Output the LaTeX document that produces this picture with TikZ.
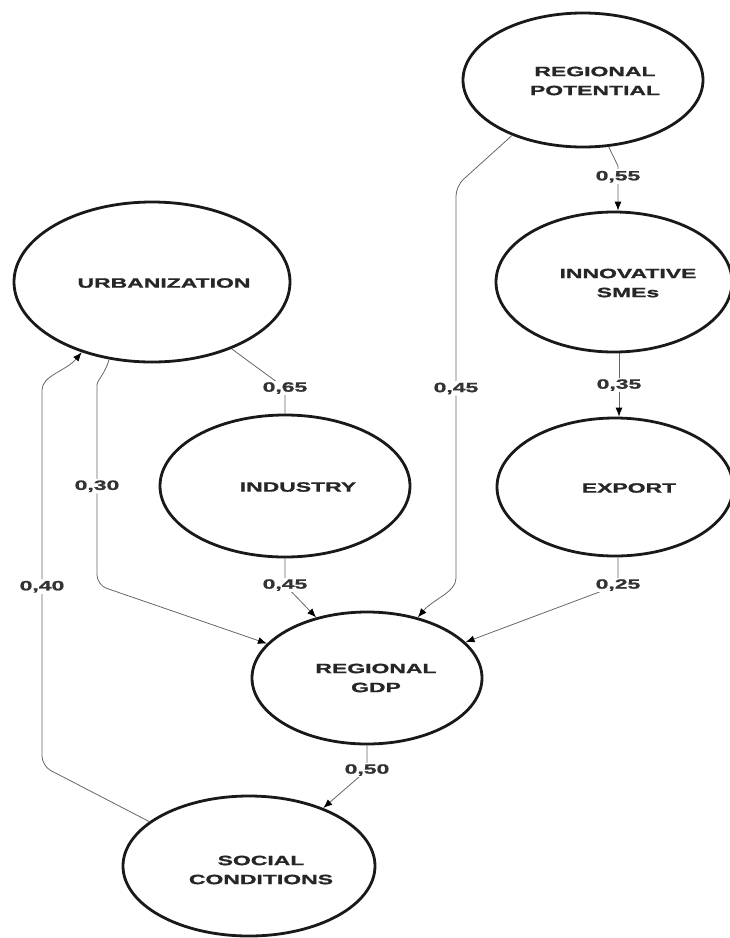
\documentclass[tikz,border=0pt]{standalone}
\usepackage{fontspec}
\newfontfamily\lab{Liberation Sans Bold}[FakeStretch=1.7,FakeBold=1.3]
\usetikzlibrary{shapes.geometric,arrows.meta}
\begin{document}
\begin{tikzpicture}[x=1pt,y=-1pt,
  var/.style={ellipse,draw=black!90,line width=2.8pt,fill=white,inner sep=0pt},
  txt/.style={font=\lab\fontsize{13.5}{19}\selectfont,text=black!85,align=center},
  lbl/.style={font=\lab\fontsize{13.5}{16}\selectfont,text=black!80,fill=white,inner sep=1.5pt},
  conn/.style={draw=black!60,line width=0.8pt},
  arr/.style={conn,-{Latex[length=9pt,width=7pt,color=black]}}]
\useasboundingbox (0,0) rectangle (730,938);
% ellipses
\node[var,minimum width=240pt,minimum height=134pt] (rp) at (583,80) {};
\node[var,minimum width=276pt,minimum height=160pt] (urb) at (152,282) {};
\node[var,minimum width=236pt,minimum height=140pt] (sme) at (614,282) {};
\node[var,minimum width=250pt,minimum height=142pt] (ind) at (285,486) {};
\node[var,minimum width=236pt,minimum height=138pt] (exp) at (615,487) {};
\node[var,minimum width=230pt,minimum height=132pt] (gdp) at (367,678) {};
\node[var,minimum width=252pt,minimum height=140pt] (soc) at (249,866) {};
% texts
\node[txt] (trp) at (595,81) {REGIONAL\\POTENTIAL};
\node[txt] (turb) at (164,283) {URBANIZATION};
\node[txt] (tsme) at (628,283) {INNOVATIVE\\SMEs};
\node[txt] (tind) at (298,487) {INDUSTRY};
\node[txt] (texp) at (629,488) {EXPORT};
\node[txt] (tgdp) at (376,678) {REGIONAL\\GDP};
\node[txt] (tsoc) at (261,870) {SOCIAL\\CONDITIONS};
% coordinates
\coordinate (c1) at (456,186);
\coordinate (c1b) at (456,568);
\coordinate (c2) at (618,166);
\coordinate (c4) at (285,388);
\coordinate (c5) at (97,395);
\coordinate (c5b) at (97,585);
\coordinate (c6) at (285,585);
\coordinate (c7) at (618,585);
\coordinate (c8) at (367,770);
\coordinate (c9) at (42,766);
\coordinate (c9b) at (42,400);
% connectors
\draw[arr,rounded corners=10pt] (rp.218) -- (c1) -- node[lbl,pos=0.53]{0,45} (c1b) to[out=-90,in=50] (gdp.50);
\draw[arr] (rp.-69) -- (c2) -- node[lbl,pos=0.24]{0,55} (c2 |- sme.north);
\draw[arr] (sme.south -| exp.north) ++(4,0) coordinate (c3a) -- node[lbl]{0,35} (c3a |- exp.north);
\draw[conn] (urb.-40) -- (c4) -- (c4 |- ind.north);
\node[lbl] at (c4) {0,65};
\draw[arr,rounded corners=10pt] (urb.-119) to[out=-105,in=90] (c5) -- node[lbl,pos=0.48]{0,30} (c5b) -- (gdp.161);
\draw[arr] (ind.south) -- (c6) -- (gdp.130);
\node[lbl] at (c6) {0,45};
\draw[arr] (exp.south -| c7) -- (c7) -- (gdp.20);
\node[lbl] at (c7) {0,25};
\draw[arr] (gdp.south) -- (c8) -- (soc.38);
\node[lbl] at (c8) {0,50};
\draw[arr,rounded corners=10pt] (soc.156) -- (c9) -- node[lbl,pos=0.49]{0,40} (c9b) to[out=90,in=-130] (urb.-135);
\end{tikzpicture}
\end{document}
